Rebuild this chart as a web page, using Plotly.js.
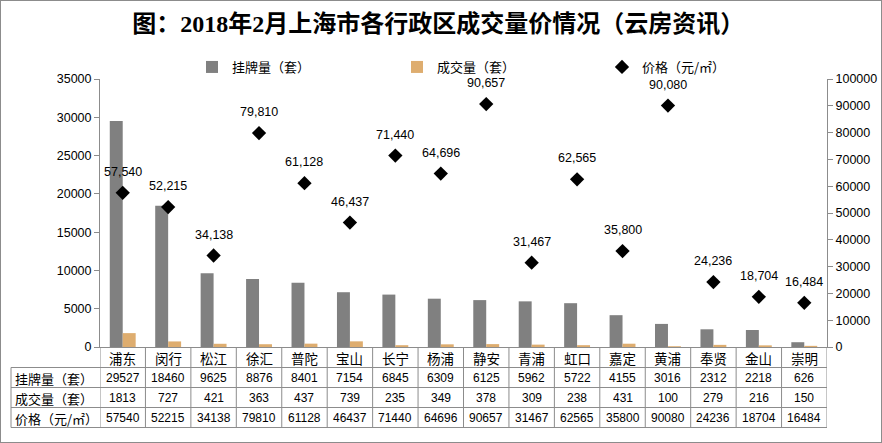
<!DOCTYPE html>
<html>
<head>
<meta charset="utf-8">
<script src="https://cdn.plot.ly/plotly-3.0.1.min.js"></script>
<style>
html,body{margin:0;padding:0;background:#fff;}
#chart{width:880px;height:441px;border:1px solid #8c8c8c;}
</style>
</head>
<body>
<div id="chart"></div>
<script>
var districts = ["浦东","闵行","松江","徐汇","普陀","宝山","长宁","杨浦","静安","青浦","虹口","嘉定","黄浦","奉贤","金山","崇明"];
var listings = [29527,18460,9625,8876,8401,7154,6845,6309,6125,5962,5722,4155,3016,2312,2218,626];
var deals = [1813,727,421,363,437,739,235,349,378,309,238,431,100,279,216,150];
var prices = [57540,52215,34138,79810,61128,46437,71440,64696,90657,31467,62565,35800,90080,24236,18704,16484];
var rowNames = ["挂牌量（套）","成交量（套）","价格（元/㎡）"];
var chartTitle = "图：2018年2月上海市各行政区成交量价情况（云房资讯）";

var FONT = "Liberation Sans, Noto Sans CJK SC, sans-serif";
var CJK = "Noto Sans CJK SC, sans-serif";
var W = 880, H = 441;
var L = 99, R = W - 826, T = 78, B = H - 346;
var plotH = H - T - B, plotW = W - L - R;
function py(pix){ return (H - B - pix) / plotH; } // pix measured from top of the div
function px(pix){ return (pix - L) / plotW; }

function fmt(v){ return v.toString().replace(/\B(?=(\d{3})+(?!\d))/g, ","); }

var traces = [
  {type:"bar", name:rowNames[0], x:districts, y:listings, marker:{color:"#808080"}, yaxis:"y", hoverinfo:"y"},
  {type:"bar", name:rowNames[1], x:districts, y:deals, marker:{color:"#DEAD6F"}, yaxis:"y", hoverinfo:"y"},
  {type:"scatter", mode:"markers", name:rowNames[2], x:districts, y:prices, yaxis:"y2",
   marker:{symbol:"diamond", size:11, color:"#000"}, cliponaxis:false}
];

var rowY = [py(366.5), py(386.5), py(406.5), py(426.5)];
var rowC = [py(356.5), py(377), py(397), py(417)];
var shapes = [];
var lineStyle = {color:"#8c8c8c", width:1};
for (var r = 0; r < 4; r++) {
  shapes.push({type:"line", xref:"paper", yref:"paper", x0:px(10), x1:1, y0:rowY[r], y1:rowY[r], line:lineStyle});
}
shapes.push({type:"line", xref:"paper", yref:"paper", x0:px(10), x1:px(10), y0:rowY[0], y1:rowY[3], line:lineStyle});
for (var i = 0; i <= districts.length; i++) {
  shapes.push({type:"line", xref:"x", yref:"paper", x0:i-0.5, x1:i-0.5, y0:0, y1:rowY[3], line:lineStyle});
}

var annotations = [];
var rows = [listings, deals, prices];
districts.forEach(function(d, i){
  // price data label above each marker
  annotations.push({xref:"x", yref:"y2", x:i, y:prices[i], yshift:21, xanchor:"center", yanchor:"middle", text:fmt(prices[i]), showarrow:false, font:{family:FONT, size:12.5, color:"#000"}});
  annotations.push({xref:"x", yref:"paper", x:i, y:rowC[0], xanchor:"center", yanchor:"middle", text:d, showarrow:false, font:{family:CJK, size:13.5, color:"#000"}});
  for (var r = 0; r < 3; r++) {
    annotations.push({xref:"x", yref:"paper", x:i, y:rowC[r+1], xanchor:"center", yanchor:"middle", text:String(rows[r][i]), showarrow:false, font:{family:FONT, size:12, color:"#000"}});
  }
});
rowNames.forEach(function(n, r){
  annotations.push({xref:"paper", yref:"paper", x:px(12), xanchor:"left", yanchor:"middle", y:rowC[r+1], text:n, showarrow:false, font:{family:CJK, size:13, color:"#000"}});
});

var layout = {
  width: W, height: H,
  margin: {l:L, r:R, t:T, b:B},
  paper_bgcolor:"#fff", plot_bgcolor:"#fff",
  title: {text: chartTitle, x:0.497, xanchor:"center", y: 1 - 23/H, yanchor:"middle", font:{family:"Liberation Serif, Noto Sans CJK SC, serif", size:24, color:"#000", weight:"bold"}},
  showlegend:true,
  legend:{orientation:"h", x:px(191), y:py(66), xanchor:"left", yanchor:"middle", entrywidth:160, entrywidthmode:"pixels", font:{family:CJK, size:13, color:"#000"}, bgcolor:"rgba(0,0,0,0)"},
  bargap:0.43, bargroupgap:0,
  xaxis:{type:"category", range:[-0.5, districts.length-0.5], showticklabels:false, ticks:"", showline:true, linecolor:"#8c8c8c", linewidth:1, showgrid:false, zeroline:false, fixedrange:true},
  yaxis:{range:[0,35000], dtick:5000, tickformat:"d", ticks:"outside", ticklen:5, tickcolor:"#8c8c8c", showline:true, linecolor:"#8c8c8c", linewidth:1, showgrid:false, zeroline:false, tickfont:{family:FONT, size:12.5, color:"#000"}},
  yaxis2:{range:[0,100000], dtick:10000, tickformat:"d", overlaying:"y", side:"right", ticks:"outside", ticklen:5, tickcolor:"#8c8c8c", showline:true, linecolor:"#8c8c8c", linewidth:1, showgrid:false, zeroline:false, tickfont:{family:FONT, size:12.5, color:"#000"}},
  shapes: shapes,
  annotations: annotations
};

Plotly.newPlot("chart", traces, layout, {displayModeBar:false, staticPlot:true});
</script>
</body>
</html>
